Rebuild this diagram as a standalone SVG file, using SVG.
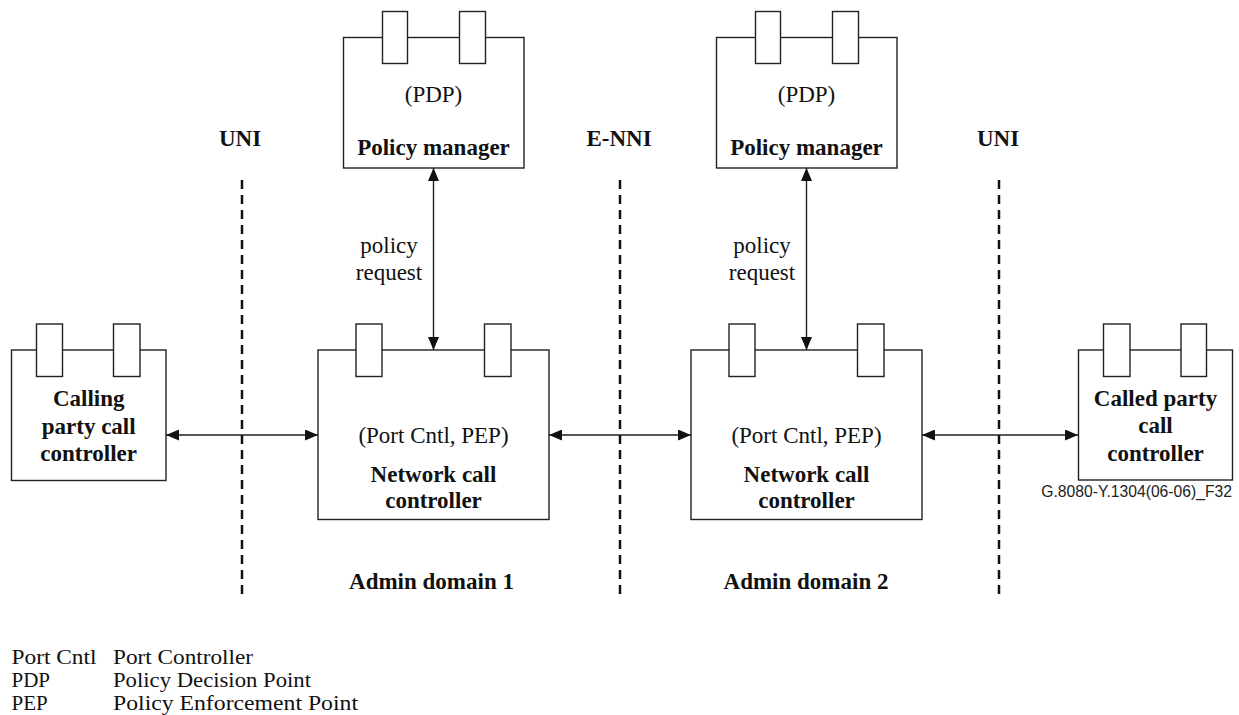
<svg xmlns="http://www.w3.org/2000/svg" width="1239" height="715" viewBox="0 0 1239 715">
<style>
.box{fill:#fff;stroke:#222;stroke-width:1.4}
.tab{fill:#fff;stroke:#222;stroke-width:1.4}
.b{font-family:"Liberation Serif","Times New Roman",serif;font-weight:bold;font-size:23px;fill:#111;text-anchor:middle}
.r{font-family:"Liberation Serif","Times New Roman",serif;font-size:23px;fill:#111;text-anchor:middle}
.lg{font-family:"Liberation Serif","Times New Roman",serif;font-size:21px;fill:#111}
.conn{stroke:#222;stroke-width:1.4;fill:none;marker-start:url(#ah);marker-end:url(#ah)}
.dash{stroke:#111;stroke-width:2.5;stroke-dasharray:9 6;fill:none}
</style>
<defs>
<marker id="ah" markerUnits="userSpaceOnUse" markerWidth="13" markerHeight="11" refX="13" refY="5.5" orient="auto-start-reverse">
<path d="M0,0 L13,5.5 L0,11 z" fill="#111"/>
</marker>
</defs>
<rect width="1239" height="715" fill="#fff"/>

<g id="boundaries">
<line class="dash" x1="242" y1="180" x2="242" y2="596"/>
<line class="dash" x1="620" y1="180" x2="620" y2="596"/>
<line class="dash" x1="999" y1="180" x2="999" y2="596"/>
<text class="b" x="240" y="146">UNI</text>
<text class="b" x="619" y="146">E-NNI</text>
<text class="b" x="998" y="146">UNI</text>
</g>

<g id="connectors">
<line class="conn" x1="166" y1="435" x2="318" y2="435"/>
<line class="conn" x1="549" y1="435" x2="691" y2="435"/>
<line class="conn" x1="922" y1="435" x2="1078" y2="435"/>
<line class="conn" x1="433.5" y1="168" x2="433.5" y2="350"/>
<line class="conn" x1="806.5" y1="168" x2="806.5" y2="350"/>
<text class="r" x="389" y="253">policy</text>
<text class="r" x="389" y="280">request</text>
<text class="r" x="762" y="253">policy</text>
<text class="r" x="762" y="280">request</text>
</g>

<g id="policy-manager-1">
<rect class="box" x="343.5" y="37.5" width="180.5" height="130.5"/>
<rect class="tab" x="382.5" y="11.5" width="25" height="52"/>
<rect class="tab" x="459.5" y="11.5" width="26" height="52"/>
<text class="r" x="433.5" y="102">(PDP)</text>
<text class="b" x="433.5" y="155">Policy manager</text>
</g>

<g id="policy-manager-2">
<rect class="box" x="716.5" y="37.5" width="180.5" height="130.5"/>
<rect class="tab" x="755.5" y="11.5" width="25" height="52"/>
<rect class="tab" x="832.5" y="11.5" width="26" height="52"/>
<text class="r" x="806.5" y="102">(PDP)</text>
<text class="b" x="806.5" y="155">Policy manager</text>
</g>

<g id="calling-party">
<rect class="box" x="11.5" y="350" width="154.5" height="130.5"/>
<rect class="tab" x="36.5" y="324" width="26" height="52.5"/>
<rect class="tab" x="113.5" y="324" width="26.5" height="52.5"/>
<text class="b" x="88.7" y="406">Calling</text>
<text class="b" x="88.7" y="434">party call</text>
<text class="b" x="88.7" y="461">controller</text>
</g>

<g id="network-call-controller-1">
<rect class="box" x="318" y="350" width="231" height="169.5"/>
<rect class="tab" x="356" y="324" width="26" height="52.5"/>
<rect class="tab" x="484.5" y="324" width="26.5" height="52.5"/>
<text class="r" x="433.5" y="443">(Port Cntl, PEP)</text>
<text class="b" x="433.5" y="482">Network call</text>
<text class="b" x="433.5" y="508">controller</text>
</g>

<g id="network-call-controller-2">
<rect class="box" x="691" y="350" width="231" height="169.5"/>
<rect class="tab" x="729" y="324" width="26" height="52.5"/>
<rect class="tab" x="857.5" y="324" width="26.5" height="52.5"/>
<text class="r" x="806.5" y="443">(Port Cntl, PEP)</text>
<text class="b" x="806.5" y="482">Network call</text>
<text class="b" x="806.5" y="508">controller</text>
</g>

<g id="called-party">
<rect class="box" x="1078.5" y="350" width="154" height="130"/>
<rect class="tab" x="1103.5" y="324" width="26.5" height="52.5"/>
<rect class="tab" x="1181" y="324" width="25.5" height="52.5"/>
<text class="b" x="1155.5" y="406">Called party</text>
<text class="b" x="1155.5" y="433">call</text>
<text class="b" x="1155.5" y="461">controller</text>
</g>

<text x="1232" y="497" font-family="'Liberation Sans',Arial,sans-serif" font-size="15.7" fill="#222" text-anchor="end">G.8080-Y.1304(06-06)_F32</text>

<g id="domains">
<text class="b" x="431.5" y="589">Admin domain 1</text>
<text class="b" x="806" y="589">Admin domain 2</text>
</g>

<g id="legend">
<text class="lg" x="11.5" y="664" textLength="85" lengthAdjust="spacingAndGlyphs">Port Cntl</text>
<text class="lg" x="113" y="664" textLength="140" lengthAdjust="spacingAndGlyphs">Port Controller</text>
<text class="lg" x="11.5" y="687">PDP</text>
<text class="lg" x="113" y="687" textLength="198" lengthAdjust="spacingAndGlyphs">Policy Decision Point</text>
<text class="lg" x="11.5" y="710">PEP</text>
<text class="lg" x="113" y="710" textLength="245" lengthAdjust="spacingAndGlyphs">Policy Enforcement Point</text>
</g>
</svg>
